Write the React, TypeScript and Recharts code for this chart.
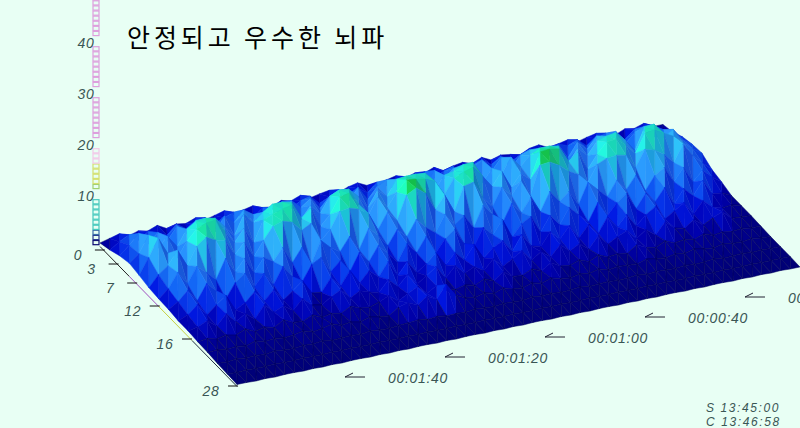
import React from 'react';
import { ScatterChart, Scatter, XAxis, YAxis, ReferenceLine } from 'recharts';

// heights (uV), one list per frequency row, back (0 Hz) to front (28 Hz), 60 time steps each
const hz00 = [0.4, 0.9, 1.4, 0.6, 1.2, 0.8, 1.5, 0.5, 1, 0.7, 1.4, 0.6, 1.1, 1.6, 0.5, 1, 1.4, 0.7, 0.4, 1.3, 0.8, 1.5, 0.6, 1, 1.3, 0.5, 1.2, 1.6, 0.7, 0.3, 1, 1.4, 0.6, 1.2, 0.8, 1.5, 0.5, 1, 1.3, 0.7, 1.5, 0.6, 1.2, 0.9, 0.4, 1.3, 1.6, 0.7, 1, 1.4, 0.6, 1.1, 1.5, 0.8, 0.4, 1.2, 0.9, 1.5, 0.5, 0.5];
const hz02 = [1, 2.2, 3.2, 1.8, 3, 2.4, 1.5, 3.3, 2, 2.8, 3.4, 1.6, 2.6, 3.3, 2.1, 1.4, 3, 2.4, 3.4, 1.7, 2.8, 3.3, 1.5, 2.4, 3.4, 2, 2.9, 1.6, 3.3, 2.3, 1.5, 3.2, 2.4, 3.4, 1.8, 2.7, 3.3, 1.4, 2.6, 3.4, 2, 3.3, 1.7, 2.8, 3.4, 2.2, 1.5, 3.3, 2.6, 3.4, 1.8, 2.9, 3.5, 2.2, 1.5, 3.1, 2.4, 3, 1.2, 1];
const hz04 = [1.8, 3.5, 5.4, 3, 4.8, 2.8, 5.2, 3.4, 5.6, 4, 2.6, 5.3, 3.6, 5.7, 4.4, 2.5, 5, 3.2, 5.6, 3.8, 5.2, 2.8, 4.6, 5.7, 3.2, 5.4, 2.6, 4.8, 5.7, 3.4, 5.5, 4, 2.7, 5.6, 3.6, 5.2, 2.8, 4.6, 5.7, 3.1, 5.4, 2.9, 5, 5.7, 3.6, 5.6, 4.2, 2.6, 5.3, 3.5, 5.7, 4.3, 5.8, 3, 4.8, 5.6, 3.2, 4.2, 2.5, 2];
const hz06 = [2.3, 3.8, 7, 4.2, 6, 3.6, 6.6, 7.8, 8, 7.6, 5.6, 3.4, 7.2, 5.2, 6.8, 8, 8, 7.6, 3.8, 6.2, 4.2, 7.2, 8, 7.8, 6, 3.4, 6.4, 4.8, 7.8, 8, 8, 7.8, 4, 6.6, 7, 7.9, 8, 3.6, 6, 4.4, 7.4, 5.2, 7, 8, 8, 7.6, 3.8, 6.4, 4.6, 7, 7.6, 7.9, 6, 3.6, 7.8, 8, 5, 6.2, 3.8, 2.5];
const hz08 = [1.9, 5, 8.4, 5, 3.8, 6.6, 8.6, 9.4, 9.6, 7, 4.4, 6.8, 3.6, 7.6, 8.4, 9, 9.4, 6.4, 8, 4, 6, 9, 9.4, 6.8, 4.2, 7.4, 5, 7.6, 9.6, 9.4, 9, 8.2, 5.2, 8, 8.8, 9.4, 7.2, 4.8, 7.4, 3.8, 6.2, 4.6, 9.6, 9.8, 9.4, 6.6, 8, 4.2, 6.8, 8.8, 9, 7.5, 5.4, 9, 9.2, 8.2, 7.2, 5.6, 4, 2.7];
const hz10 = [1.4, 3.6, 5, 7.6, 4.2, 7.6, 9, 8, 7.6, 4.4, 6.4, 3.2, 6, 8.4, 9, 8.4, 6.4, 7.4, 3.6, 5.4, 8.6, 8.8, 8.2, 7, 3.4, 6.4, 4.4, 9, 10, 8.6, 5, 7.4, 3.8, 8.4, 8.8, 5.4, 3.2, 6.6, 4.6, 7, 3.8, 9.4, 9.6, 8.6, 7, 6, 4, 7.2, 8, 8.2, 7.8, 5, 8.2, 7.6, 6.4, 4.4, 7.6, 5, 3.2, 1.5];
const hz12 = [1.2, 2.8, 5.6, 3, 6, 4.4, 2.6, 6.4, 3.4, 5.6, 2.4, 5, 3.8, 6.2, 2.8, 5.4, 1.8, 6, 4.2, 3, 5.6, 2.6, 6.4, 4.6, 2.2, 5, 3.2, 6.2, 4.2, 2.8, 6, 3.6, 5, 2.2, 6.2, 4, 1.8, 5.4, 3.2, 5.8, 2.6, 6.2, 3.8, 5.4, 2.4, 6.4, 4.6, 2.8, 5.6, 3.4, 5.8, 2.4, 5, 6.2, 3, 5.4, 2.2, 4, 2.4, 1];
const hz14 = [1.1, 2.2, 4, 1.6, 4.6, 2.8, 0.8, 3.6, 5, 2, 4.2, 1.6, 4.8, 2.4, 1, 4, 5, 1.8, 3.6, 1, 4.4, 2.2, 5, 3, 1, 4.2, 2, 4.8, 1.2, 3.6, 5, 1.8, 0.8, 4.2, 2.4, 5, 1.2, 3.4, 4.4, 1, 3.8, 1.6, 4.6, 2.8, 1, 4.4, 1.4, 3.6, 5, 1.6, 4.2, 2.2, 4.6, 1, 3.6, 1.8, 4.4, 1.4, 1.2, 0.3];
const hz16 = [0.8, 1.6, 3.2, 0.8, 2.4, 3.8, 0.6, 1.6, 3.4, 1.2, 3, 0.6, 2, 3.6, 0.8, 0.5, 3, 1, 3.6, 0.8, 2.8, 1.2, 3.8, 0.7, 3, 0.5, 1.8, 3.6, 0.8, 2.8, 1, 3.6, 0.6, 2.2, 3.2, 0.7, 3.6, 1, 0.5, 3, 1.2, 3.4, 0.6, 2.8, 0.7, 3.6, 1.2, 3.2, 0.6, 2.4, 3.6, 0.8, 2, 3.2, 0.6, 2.8, 1.2, 0.6, 0.8, 0.3];
const hz18 = [0.8, 1.2, 2, 0.6, 2.6, 0.7, 1.8, 0.4, 2.8, 1, 1.8, 0.5, 2.4, 0.8, 0.4, 1.6, 2.6, 0.6, 1.6, 1, 0.5, 2.6, 0.9, 2.8, 0.6, 1.8, 3.2, 0.6, 2.6, 0.8, 1.6, 0.5, 2.4, 0.5, 1.6, 2.8, 0.6, 1.8, 0.4, 2.4, 0.8, 1.8, 0.4, 2.6, 0.6, 1.6, 2.4, 0.5, 1.8, 0.4, 2.6, 1, 0.5, 1.8, 0.4, 1.4, 2.2, 0.5, 0.4, 0.3];
const hz20 = [0.6, 0.9, 0.4, 0.8, 0.4, 1.2, 0.3, 0.8, 0.3, 1.4, 0.5, 0.3, 1.2, 0.3, 0.7, 0.3, 1.3, 0.6, 0.3, 1, 1.8, 0.4, 1.4, 2.4, 0.7, 1.8, 0.6, 0.3, 0.8, 0.3, 1.2, 0.4, 1.8, 0.5, 0.3, 1.2, 0.4, 1.6, 0.6, 0.3, 1, 0.3, 1.2, 0.4, 0.6, 0.3, 1.6, 0.7, 0.3, 1.2, 0.4, 0.7, 0.3, 1, 0.3, 0.6, 0.3, 0.5, 0.2, 0.2];
const hz22 = [0.5, 0.6, 0.3, 0.5, 0.2, 0.8, 0.3, 0.5, 0.2, 0.4, 0.8, 0.2, 0.5, 1, 0.3, 0.6, 0.2, 0.8, 0.4, 0.2, 1.5, 2, 1.2, 2.5, 1.5, 4, 1.5, 0.6, 0.3, 0.8, 0.3, 1, 0.4, 0.2, 0.8, 0.3, 1, 0.5, 0.2, 0.6, 0.3, 0.8, 0.2, 0.5, 0.3, 0.2, 0.8, 0.4, 0.2, 0.6, 0.3, 0.8, 0.4, 0.2, 0.6, 0.3, 0.2, 0.5, 0.2, 0.1];
const hz24 = [0.3, 0.2, 0.4, 0.2, 0.3, 0.1, 0.4, 0.2, 0.1, 0.3, 0.2, 0.4, 0.1, 0.2, 0.3, 0.1, 0.4, 0.2, 0.1, 0.3, 0.4, 0.6, 0.3, 0.5, 0.2, 0.3, 0.1, 0.4, 0.2, 0.1, 0.3, 0.2, 0.1, 0.4, 0.2, 0.3, 0.1, 0.2, 0.4, 0.1, 0.2, 0.3, 0.1, 0.2, 0.4, 0.1, 0.3, 0.2, 0.1, 0.3, 0.1, 0.2, 0.4, 0.1, 0.2, 0.3, 0.1, 0.2, 0.1, 0.1];
const hz26 = [0.2, 0.1, 0.2, 0.1, 0.1, 0.2, 0.1, 0.1, 0.2, 0.1, 0.1, 0.2, 0.1, 0.2, 0.1, 0.1, 0.2, 0.1, 0.1, 0.2, 0.1, 0.2, 0.1, 0.1, 0.2, 0.1, 0.1, 0.2, 0.1, 0.1, 0.2, 0.1, 0.1, 0.2, 0.1, 0.2, 0.1, 0.1, 0.2, 0.1, 0.1, 0.2, 0.1, 0.1, 0.2, 0.1, 0.2, 0.1, 0.1, 0.2, 0.1, 0.1, 0.2, 0.1, 0.1, 0.2, 0.1, 0.1, 0.1, 0.1];
const hz28 = [0.1, 0.1, 0, 0.1, 0, 0.1, 0.1, 0, 0.1, 0, 0.1, 0, 0.1, 0.1, 0, 0.1, 0, 0.1, 0, 0.1, 0.1, 0, 0.1, 0, 0.1, 0.1, 0, 0.1, 0, 0.1, 0, 0.1, 0.1, 0, 0.1, 0, 0.1, 0, 0.1, 0.1, 0, 0.1, 0, 0.1, 0, 0.1, 0.1, 0, 0.1, 0, 0.1, 0.1, 0, 0.1, 0, 0.1, 0, 0.1, 0, 0];
const surface = [hz00, hz02, hz04, hz06, hz08, hz10, hz12, hz14, hz16, hz18, hz20, hz22, hz24, hz26, hz28];

const valueTicks = [10, 20, 30, 40];
const freqTicks = ['0', '3', '7', '12', '16', '28'];
const freqTickRows = [0.5, 1.9, 3.8, 6.1, 9.4, 14.1];
const timeTicks = [100, 80, 60, 40, 20];
const barLevels = [0, 1, 2, 3, 4, 5, 6, 7, 8, 11, 12, 13, 14, 15, 16, 17, 18, 21, 22, 23, 24, 25, 26, 27, 28, 31, 32, 33, 34, 35, 36, 37, 38, 41, 42, 43, 44, 45, 46, 47, 48];

const W = 800;
const H = 428;
const BG = '#e8fff4';
const INK = '#3a5654';
const LABEL_FONT = '"Liberation Sans", sans-serif';

// oblique projection of (time step, frequency row, height) onto the page
const project = (c: number, r: number, h: number) => ({
  sx: 100 + c * 9.54 + r * 9.79,
  sy: 245 - c * 2 + r * 10 - h * 5.1,
});

const clock = (s: number) => `00:0${Math.floor(s / 60)}:${String(s % 60).padStart(2, '0')}`;

const surfaceStops: [number, number[]][] = [
  [0, [0, 0, 115]],
  [1, [0, 0, 170]],
  [2, [0, 20, 215]],
  [3.5, [15, 85, 232]],
  [5, [35, 125, 240]],
  [6.2, [40, 155, 238]],
  [7.6, [30, 205, 220]],
  [8.9, [25, 215, 175]],
  [9.7, [20, 190, 70]],
];

// darker facets lose red and green first so the blues stay saturated
const heightColor = (h: number, shade: number) => {
  let i = 0;
  while (i < surfaceStops.length - 2 && h > surfaceStops[i + 1][0]) i++;
  const [h0, c0] = surfaceStops[i];
  const [h1, c1] = surfaceStops[i + 1];
  const t = Math.min(1, Math.max(0, (h - h0) / (h1 - h0)));
  const mix = c0.map((v, k) => v + (c1[k] - v) * t);
  const blue = shade < 1 ? 0.72 + 0.28 * shade : 1 + (shade - 1) * 0.3;
  const r = Math.min(255, Math.round(mix[0] * shade));
  const g = Math.min(255, Math.round(mix[1] * shade));
  const b = Math.min(255, Math.round(mix[2] * blue));
  return `rgb(${r},${g},${b})`;
};

const barColor = (v: number) => {
  if (v < 1) return '#0a0a70';
  if (v < 2) return '#2a3a90';
  if (v < 3) return '#3a70a8';
  if (v < 9) return '#45c8bc';
  if (v < 12) return '#a0d070';
  if (v < 16) return '#d4e070';
  if (v < 20) return '#f2c8e8';
  return '#dd9fdd';
};

// triangles, painted from the back row forward
const buildFacets = () => {
  const out: any[] = [];
  for (let r = 0; r < surface.length - 1; r++) {
    for (let c = surface[0].length - 2; c >= 0; c--) {
      const a = surface[r][c];
      const b = surface[r][c + 1];
      const d = surface[r + 1][c];
      const e = surface[r + 1][c + 1];
      const tris = [
        { v: [[c + 1, r, b], [c + 1, r + 1, e], [c, r + 1, d]], slope: d - e, back: b - e },
        { v: [[c, r, a], [c + 1, r, b], [c, r + 1, d]], slope: a - b, back: a - d },
      ];
      tris.forEach((t) => {
        const pts = t.v.map(([x, y, z]) => project(x, y, z));
        const mean = (t.v[0][2] + t.v[1][2] + t.v[2][2]) / 3;
        const shade = Math.max(0.55, Math.min(1.2, 1 - t.slope * 0.09 - t.back * 0.025));
        const sx = (pts[0].sx + pts[1].sx + pts[2].sx) / 3;
        const sy = (pts[0].sy + pts[1].sy + pts[2].sy) / 3;
        out.push({
          sx,
          sy,
          fill: heightColor(mean, shade),
          mesh: mean < 0.8,
          offsets: pts.map((p) => `${p.sx - sx},${p.sy - sy}`).join(' '),
        });
      });
    }
  }
  return out;
};

const facets = buildFacets();

const Facet = (props: any) => {
  const { cx, cy, payload } = props;
  return (
    <polygon
      transform={`translate(${cx},${cy})`}
      points={payload.offsets}
      fill={payload.fill}
      stroke={payload.mesh ? '#00005a' : payload.fill}
      strokeWidth={0.5}
      strokeLinejoin="round"
    />
  );
};

const Label = (props: any) => {
  const { cx, cy, payload } = props;
  return (
    <text
      x={cx}
      y={cy}
      textAnchor={payload.anchor || 'middle'}
      dominantBaseline="central"
      fontFamily={LABEL_FONT}
      fontStyle="italic"
      fontSize={payload.size || 14}
      letterSpacing={payload.spacing || 0.7}
      fill={INK}
    >
      {payload.label}
    </text>
  );
};

const Title = (props: any) => (
  <text
    x={props.cx}
    y={props.cy}
    fontFamily='"Noto Sans CJK KR", sans-serif'
    fontSize={25}
    letterSpacing={3.9}
    fill="#000"
  >
    {props.payload.label}
  </text>
);

const BarCell = (props: any) => (
  <rect
    x={props.cx - 3}
    y={props.cy - 2.5}
    width={6}
    height={4.2}
    fill={BG}
    stroke={barColor(props.payload.v)}
    strokeWidth={1.2}
  />
);

const Arrow = (props: any) => {
  const { cx, cy } = props;
  return (
    <path
      d={`M${cx},${cy} h20 M${cx},${cy} l8,-4`}
      stroke="#223"
      strokeWidth={1}
      fill="none"
    />
  );
};

const freqEdge = freqTickRows.map((r) => project(0, r, 0));

const valueLabels = valueTicks.map((v) => ({ sx: 86, sy: 247 - v * 5.1, label: String(v) }));
const freqLabels = freqTicks.map((label, i) => ({
  sx: freqEdge[i].sx - 27,
  sy: freqEdge[i].sy + 5,
  label,
}));
const timeArrows = timeTicks.map((s) => ({ sx: 345 + (100 - s) * 5, sy: 377 - (100 - s) }));
const timeLabels = timeTicks.map((s) => ({
  sx: 418 + (100 - s) * 5,
  sy: 378 - (100 - s),
  label: clock(s),
}));
const barCells = barLevels.map((v) => ({ sx: 96, sy: 243 - v * 5.1, v }));
const stamps = [
  { sx: 706, sy: 408, label: 'S 13:45:00', anchor: 'start', size: 12, spacing: 1.6 },
  { sx: 706, sy: 422, label: 'C 13:46:58', anchor: 'start', size: 12, spacing: 1.6 },
];
const titleData = [{ sx: 127, sy: 47, label: '안정되고 우수한 뇌파' }];

const seg = (r0: number, r1: number) => {
  const a = project(0, r0, 0);
  const b = project(0, r1, 0);
  return [
    { x: a.sx, y: a.sy + 1.5 },
    { x: b.sx, y: b.sy + 1.5 },
  ];
};

export default function App() {
  return (
    <div style={{ position: 'absolute', left: 0, top: 0, width: W, height: H, background: BG, overflow: 'hidden' }}>
      <ScatterChart width={W} height={H} margin={{ top: 0, right: 0, bottom: 0, left: 0 }}>
        <XAxis type="number" dataKey="sx" domain={[0, W]} allowDataOverflow hide />
        <YAxis type="number" dataKey="sy" domain={[0, H]} reversed allowDataOverflow hide />
        <Scatter data={barCells} shape={BarCell} isAnimationActive={false} />
        <Scatter data={facets} shape={Facet} isAnimationActive={false} />
        <ReferenceLine segment={seg(0, 3)} stroke="#222" ifOverflow="visible" />
        <ReferenceLine segment={seg(3, 6)} stroke="#a050c0" ifOverflow="visible" />
        <ReferenceLine segment={seg(6, 9.4)} stroke="#c8d040" ifOverflow="visible" />
        <ReferenceLine segment={seg(9.4, 14)} stroke="#203040" ifOverflow="visible" />
        {freqEdge.map((p, i) => (
          <ReferenceLine
            key={freqTicks[i]}
            segment={[{ x: p.sx - 10, y: p.sy }, { x: p.sx, y: p.sy }]}
            stroke="#111"
            ifOverflow="visible"
          />
        ))}
        <Scatter data={valueLabels} shape={Label} isAnimationActive={false} />
        <Scatter data={freqLabels} shape={Label} isAnimationActive={false} />
        <Scatter data={timeArrows} shape={Arrow} isAnimationActive={false} />
        <Scatter data={timeLabels} shape={Label} isAnimationActive={false} />
        <Scatter data={stamps} shape={Label} isAnimationActive={false} />
        <Scatter data={titleData} shape={Title} isAnimationActive={false} />
      </ScatterChart>
    </div>
  );
}
